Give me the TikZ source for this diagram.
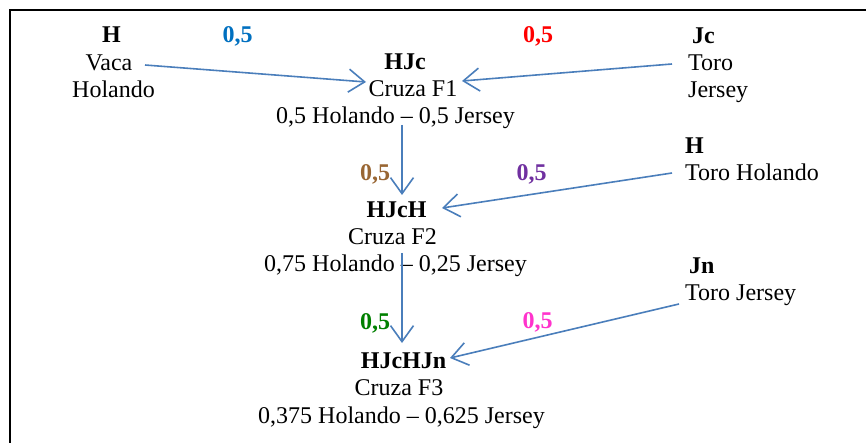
\documentclass[tikz,border=0pt]{standalone}
\usepackage{fontspec}
\setmainfont{Liberation Serif}
\usetikzlibrary{arrows.meta,calc}
\definecolor{arrblue}{HTML}{4A7EBB}
\definecolor{wblue}{HTML}{0070C0}
\definecolor{wred}{HTML}{FF0000}
\definecolor{wbrown}{HTML}{996633}
\definecolor{wpurple}{HTML}{7030A0}
\definecolor{wgreen}{HTML}{008000}
\definecolor{wpink}{HTML}{FF33CC}
\begin{document}
\begin{tikzpicture}[x=1pt,y=-1pt,
  txt/.style={inner sep=0pt,anchor=base,font=\fontsize{24}{27}\selectfont},
  ltxt/.style={txt,anchor=base west},
  btxt/.style={txt,font=\fontsize{24}{27}\selectfont\bfseries},
  lbtxt/.style={btxt,anchor=base west},
  arr/.style={draw=arrblue,line width=1.6pt,-{Straight Barb[length=16pt,width=23pt,line width=1.6pt]}},
  frame/.style={draw=black,line width=2pt}]
\useasboundingbox (0,0) rectangle (866,443);
\fill[white] (0,0) rectangle (866,443);
% frame (top and left edges only)
\coordinate (fa) at (10,443);
\coordinate (fb) at (10,10);
\coordinate (fc) at (866,10);
\draw[frame] (fa) -- (fb) -- (fc);
% left parent
\node[btxt] (hH) at (111.5,43) {H};
\node[txt] (hVaca) at (109,71) {Vaca};
\node[txt] (hHol) at (113.5,98) {Holando};
% right parent Jc
\node[lbtxt] (jc) at (692,44) {Jc};
\node[ltxt] (jToro) at (688,71) {Toro};
\node[ltxt] (jJer) at (688,98) {Jersey};
% weights
\node[btxt,text=wblue] (w1) at (237.5,43) {0,5};
\node[btxt,text=wred] (w2) at (538,43) {0,5};
% F1
\node[btxt] (hjc) at (405,70) {HJc};
\node[txt] (cr1) at (413,97) {Cruza F1};
\node[txt] (l1) at (395.5,124) {0,5 Holando – 0,5 Jersey};
% H toro
\node[lbtxt] (h2) at (685,154) {H};
\node[ltxt] (th) at (685,181) {Toro Holando};
\node[btxt,text=wbrown] (w3) at (375,181) {0,5};
\node[btxt,text=wpurple] (w4) at (531.5,181) {0,5};
% F2
\node[btxt] (hjch) at (396.5,218) {HJcH};
\node[txt] (cr2) at (392.5,245) {Cruza F2};
\node[txt] (l2) at (395.5,272) {0,75 Holando – 0,25 Jersey};
% Jn toro
\node[lbtxt] (jn) at (689,273) {Jn};
\node[ltxt] (tj) at (685,300) {Toro Jersey};
\node[btxt,text=wgreen] (w5) at (375,329) {0,5};
\node[btxt,text=wpink] (w6) at (537.5,328) {0,5};
% F3
\node[btxt] (hjchjn) at (403.5,368) {HJcHJn};
\node[txt] (cr3) at (399,395) {Cruza F3};
\node[txt] (l3) at (401.5,423) {0,375 Holando – 0,625 Jersey};
% connectors
\draw[arr] ($(hVaca.base)+(36,-6)$) -- ($(cr1.base)+(-47,-15)$);
\draw[arr] ($(jToro.base west)+(-16,-7)$) -- ($(cr1.base)+(49,-16)$);
\draw[arr] ($(l1.base)+(6.5,1)$) -- ($(hjch.base)+(5.5,-23)$);
\draw[arr] ($(th.base west)+(-13,-8)$) -- ($(hjch.base)+(45.5,-10)$);
\draw[arr] ($(l2.base)+(6.5,-19)$) -- ($(hjchjn.base)+(-1.5,-25)$);
\draw[arr] ($(tj.base west)+(-6,4)$) -- ($(hjchjn.base)+(46.5,-10)$);
\end{tikzpicture}
\end{document}
